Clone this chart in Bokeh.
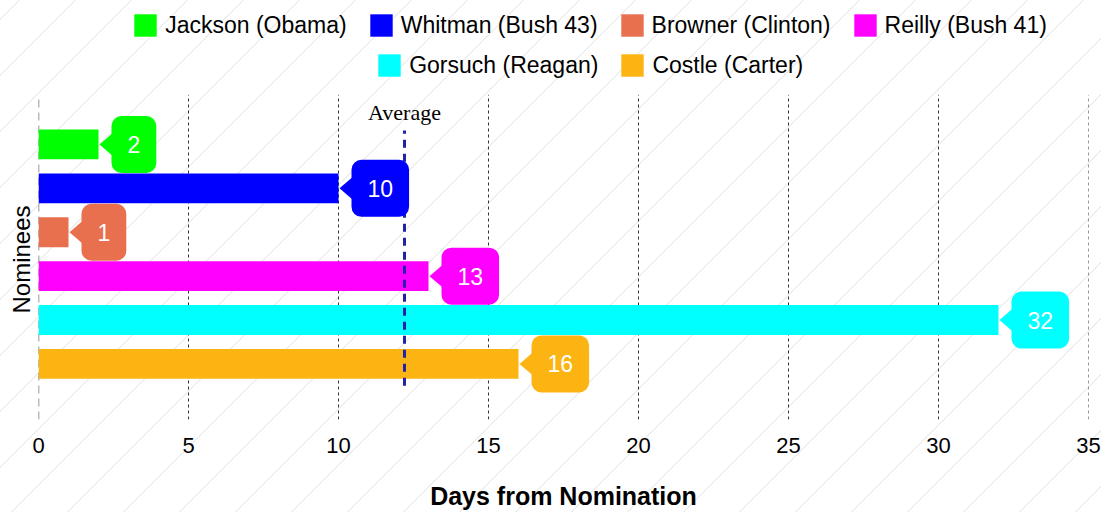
from bokeh.plotting import figure
from bokeh.models import (Range1d, Label, Legend, LegendItem, FixedTicker,
                          ColumnDataSource, Title)
from bokeh.embed import file_html
from bokeh.resources import INLINE

# ---------------- data ----------------
nominees = ["Jackson (Obama)", "Whitman (Bush 43)", "Browner (Clinton)",
            "Reilly (Bush 41)", "Gorsuch (Reagan)", "Costle (Carter)"]
days = [2, 10, 1, 13, 32, 16]
colors = ["#00ff00", "#0000ff", "#e9704f", "#ff00ff", "#00ffff", "#fbb412"]
x_ticks = [0, 5, 10, 15, 20, 25, 30, 35]
average_days = 12.2

# ---------------- geometry (page px; Bokeh page has no margin) ----------------
W, H = 1101, 512
FL, FR, FT, FB = 38, 1088, 0, 422
x_lo, x_hi = 0, 35
px_x = (FR - FL) / (x_hi - x_lo)
px_y = 44.2
n = len(nominees)
y_lo = -(FB - 366) / px_y
y_hi = y_lo + (FB - FT) / px_y
grid_top = (n - 1) + 50 / px_y           # top of grid area

ypos = [n - 1 - i for i in range(n)]

p = figure(width=W, height=H, output_backend="svg", toolbar_location=None,
           x_range=Range1d(x_lo, x_hi), y_range=Range1d(y_lo, y_hi),
           min_border_left=FL, min_border_right=W - FR,
           min_border_top=FT, min_border_bottom=H - FB, title=None)
p.outline_line_color = None
p.background_fill_alpha = 0
p.border_fill_alpha = 0
p.xgrid.visible = False
p.ygrid.visible = False

# vertical dashed grid lines (stop at the grid top)
gx = [t for t in x_ticks if t > 0]
p.segment(x0=gx, y0=[y_lo] * len(gx), x1=gx, y1=[grid_top] * len(gx),
          line_color="#333333", line_dash="3 3", line_width=1)
# y axis line (dashed gray)
p.segment(x0=[x_ticks[0]], y0=[y_lo], x1=[x_ticks[0]], y1=[grid_top],
          line_color="#777777", line_dash="8 5", line_width=1.5)

# x axis
p.xaxis.ticker = FixedTicker(ticks=x_ticks)
p.xaxis.axis_line_color = None
p.xaxis.major_tick_line_color = None
p.xaxis.minor_tick_line_color = None
p.xaxis.major_label_standoff = 12
p.xaxis.major_label_text_font = "Liberation Sans"
p.xaxis.major_label_text_font_size = "22px"
p.xaxis.major_label_text_color = "#000000"
p.xaxis.axis_label = "Days from Nomination"
p.xaxis.axis_label_text_font = "Liberation Sans"
p.xaxis.axis_label_text_font_size = "25px"
p.xaxis.axis_label_text_font_style = "bold"
p.xaxis.axis_label_text_color = "#000000"
p.xaxis.axis_label_standoff = 26

# y axis title, placed along the grid area (frame extends up to the legends)
p.yaxis.visible = False
p.add_layout(Title(text="Nominees", align="left", text_font="Liberation Sans",
                   text_font_size="24px", text_font_style="normal",
                   text_color="#000000", standoff=8, offset=106), "left")

# bars
src = ColumnDataSource(dict(y=ypos, right=days, color=colors, name=nominees))
bars = p.hbar(y="y", left=0, right="right", height=30 / px_y,
              fill_color="color", line_color=None, source=src)

# callout pointers + boxes
tip = 1.0 / px_x
base = 16.0 / px_x
half = 13.0 / px_y
xs = [[v + tip, v + base, v + base] for v in days]
ys = [[y, y + half, y - half] for y in ypos]
p.patches(xs, ys, fill_color=colors, line_color=None)

for v, y, c in zip(days, ypos, colors):
    p.add_layout(Label(x=v, y=y, x_offset=13, text=str(v), anchor="center_left",
                       text_color="white", text_font="Liberation Sans",
                       text_font_size="23px", text_baseline="middle",
                       background_fill_color=c, border_radius=10,
                       padding=(16, 20)))

# average line
avg_top = ypos[0] + 14 / px_y
avg_bot = ypos[-1] - 22 / px_y
p.segment(x0=[average_days], y0=[avg_bot], x1=[average_days], y1=[avg_top],
          line_color="#2222aa", line_width=3, line_dash="8 6")
p.add_layout(Label(x=average_days, y=avg_top, y_offset=6, text="Average",
                   text_align="center", text_baseline="bottom",
                   text_font="Liberation Serif", text_font_size="22px",
                   text_color="#000000"))

# legends (two rows); location = bottom-left corner from frame bottom-left
G = 28                     # glyph box; bar swatch is drawn at 80% of it
inset = 0.1 * G
def make_legend(idx, loc):
    items = [LegendItem(label=nominees[i], renderers=[bars], index=i) for i in idx]
    return Legend(items=items, orientation="horizontal", location=loc,
                  border_line_color=None, background_fill_alpha=0,
                  padding=0, margin=0, spacing=int(23 - inset), label_standoff=int(9 - inset),
                  glyph_width=G, glyph_height=G, label_height=22,
                  label_text_font="Liberation Sans", label_text_font_size="23px",
                  label_text_color="#000000")

p.add_layout(make_legend([0, 1, 2, 3], (134 - inset - FL, FB - 28 - G / 2)))
p.add_layout(make_legend([4, 5], (378 - inset - FL, FB - 68 - G / 2)))

html = file_html(p, INLINE)
css = ("<style>body{overflow:hidden;background:repeating-linear-gradient(-45deg,"
       "#ffffff 0px,#ffffff 17px,#eeeeee 17px,#eeeeee 19px,#ffffff 19px,#ffffff 39.6px);}</style>")
html = html.replace("</head>", css + "</head>")
open("out.html", "w").write(html)
